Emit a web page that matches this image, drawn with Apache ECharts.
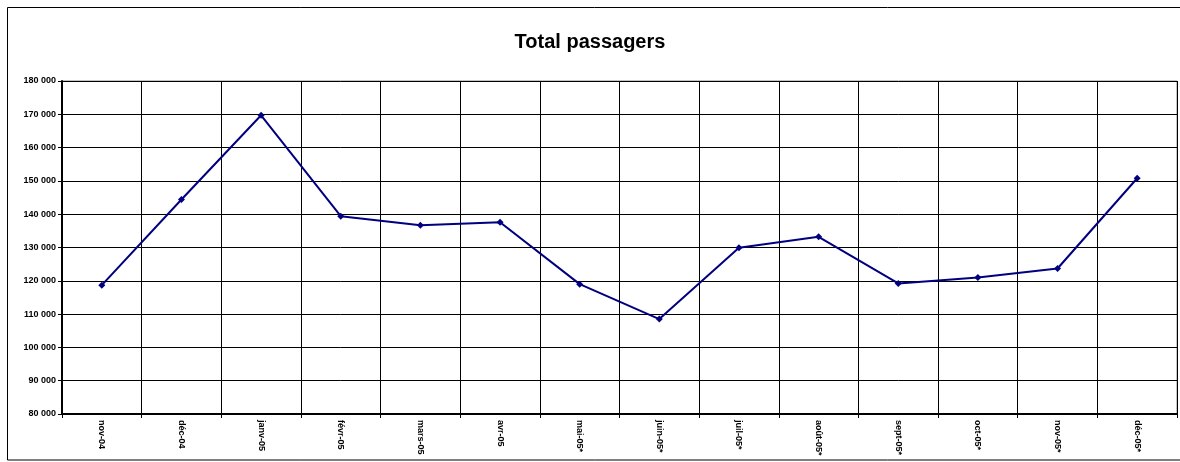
<!DOCTYPE html>
<html><head><meta charset="utf-8">
<script src="https://cdn.jsdelivr.net/npm/echarts@6/dist/echarts.min.js"></script>
<style>html,body{margin:0;padding:0;background:#fff}#c{width:1180px;height:462px}</style>
</head><body><div id="c"></div>
<script>
const categories = ["nov-04","déc-04","janv-05","févr-05","mars-05","avr-05","mai-05*","juin-05*","juil-05*","août-05*","sept-05*","oct-05*","nov-05*","déc-05*"];
const passengers = [118700,144400,169700,139400,136700,137600,119000,108500,129900,133200,119200,121000,123700,150800];
const yMin = 80000, yMax = 180000, yStep = 10000;
const titleText = "Total passagers";

const chart = echarts.init(document.getElementById('c'), null, {renderer:'canvas'});
chart.setOption({
  animation:false,
  backgroundColor:'#fff',
  title:{text:titleText,left:'center',top:27,textStyle:{fontFamily:'Liberation Sans, Arial',fontWeight:'bold',fontSize:20,color:'#000'}},
  graphic:[{type:'rect',shape:{x:7.5,y:7.5,width:1180,height:452.5},style:{fill:null,stroke:'#000',lineWidth:1},silent:true}],
  grid:{left:62,right:3,top:81,bottom:48,show:true,borderColor:'#888',borderWidth:1},
  xAxis:{type:'category',data:categories,boundaryGap:true,
    axisLine:{lineStyle:{color:'#000',width:2}},
    axisTick:{show:true,length:4,lineStyle:{color:'#000'}},
    axisLabel:{rotate:-90,fontFamily:'Liberation Sans, Arial',fontWeight:'bold',fontSize:9,color:'#000',margin:6,interval:0},
    splitLine:{show:true,lineStyle:{color:'#000',width:1}}},
  yAxis:{type:'value',min:yMin,max:yMax,interval:yStep,
    axisLine:{show:true,lineStyle:{color:'#000',width:2}},
    axisTick:{show:true,length:4,lineStyle:{color:'#000'}},
    axisLabel:{fontFamily:'Liberation Sans, Arial',fontWeight:'bold',fontSize:9,color:'#000',margin:6,
      formatter:v=>String(v).replace(/\B(?=(\d{3})+(?!\d))/g,' ')},
    splitLine:{show:true,lineStyle:{color:'#000',width:1}}},
  series:[{type:'line',data:passengers,symbol:'diamond',symbolSize:7,
    lineStyle:{color:'#000080',width:2},itemStyle:{color:'#000080'}}]
});
</script></body></html>
